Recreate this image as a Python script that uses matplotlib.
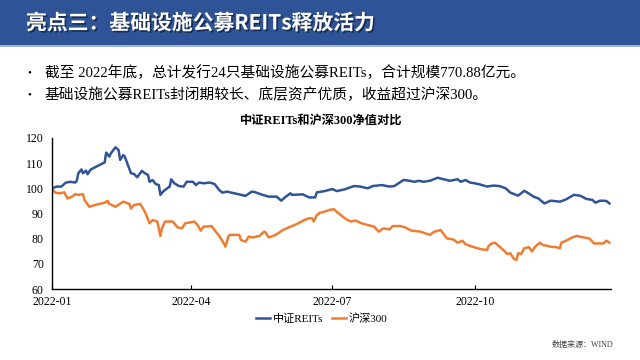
import numpy as np
import pandas as pd
import matplotlib
matplotlib.use("Agg")
import matplotlib.pyplot as plt
import matplotlib.dates as mdates
import matplotlib.patheffects as pe
from matplotlib.patches import Rectangle

# 中证REITs net value
reits_dates = [
    "2022-01-01", "2022-01-04", "2022-01-07", "2022-01-10", "2022-01-13", "2022-01-16",
    "2022-01-17", "2022-01-18", "2022-01-20", "2022-01-21", "2022-01-23", "2022-01-24",
    "2022-01-26", "2022-02-04", "2022-02-05", "2022-02-07", "2022-02-08", "2022-02-11",
    "2022-02-13", "2022-02-14", "2022-02-16", "2022-02-17", "2022-02-21", "2022-02-23",
    "2022-02-25", "2022-02-28", "2022-03-02", "2022-03-04", "2022-03-05", "2022-03-07",
    "2022-03-09", "2022-03-11", "2022-03-12", "2022-03-14", "2022-03-18", "2022-03-19",
    "2022-03-21", "2022-03-24", "2022-03-27", "2022-03-29", "2022-04-02", "2022-04-04",
    "2022-04-06", "2022-04-09", "2022-04-13", "2022-04-16", "2022-04-19", "2022-04-21",
    "2022-04-24", "2022-05-01", "2022-05-06", "2022-05-10", "2022-05-12", "2022-05-17",
    "2022-05-21", "2022-05-26", "2022-05-29", "2022-06-01", "2022-06-04", "2022-06-05",
    "2022-06-12", "2022-06-16", "2022-06-20", "2022-06-21", "2022-06-26", "2022-07-01",
    "2022-07-04", "2022-07-09", "2022-07-15", "2022-07-19", "2022-07-24", "2022-07-27",
    "2022-08-02", "2022-08-07", "2022-08-10", "2022-08-16", "2022-08-20", "2022-08-23",
    "2022-08-26", "2022-08-29", "2022-09-02", "2022-09-07", "2022-09-11", "2022-09-15",
    "2022-09-20", "2022-09-22", "2022-09-25", "2022-09-28", "2022-10-01", "2022-10-04",
    "2022-10-09", "2022-10-13", "2022-10-17", "2022-10-21", "2022-10-24", "2022-10-29",
    "2022-11-02", "2022-11-04", "2022-11-08", "2022-11-11", "2022-11-15", "2022-11-19",
    "2022-11-25", "2022-11-29", "2022-12-04", "2022-12-08", "2022-12-12", "2022-12-16",
    "2022-12-18", "2022-12-21", "2022-12-25", "2022-12-27",
]
reits_values = [
    100.0, 100.7, 100.7, 102.3, 102.6, 102.3,
    103.0, 106.0, 107.5, 106.0, 107.0, 105.6,
    107.5, 110.3, 114.2, 112.6, 113.9, 116.3,
    115.2, 111.3, 113.2, 112.6, 106.0, 105.7,
    104.4, 106.9, 106.0, 105.3, 102.6, 103.3,
    101.7, 101.3, 97.4, 98.9, 100.7, 103.6,
    102.0, 100.9, 100.7, 102.6, 102.6, 101.3,
    102.3, 102.0, 102.3, 101.7, 99.3, 98.3,
    98.7, 97.7, 97.0, 98.7, 98.5, 97.4,
    96.7, 96.7, 95.1, 96.7, 98.0, 97.4,
    97.6, 96.4, 96.4, 98.4, 98.9, 99.7,
    98.9, 99.6, 100.9, 100.7, 100.0, 100.9,
    101.3, 100.7, 100.9, 103.3, 103.0, 102.6,
    103.0, 102.6, 103.0, 104.2, 103.6, 103.0,
    103.6, 102.6, 103.3, 102.3, 102.0, 101.6,
    100.7, 101.1, 100.9, 100.0, 98.3, 97.1,
    99.0, 98.3, 96.7, 96.0, 94.0, 95.1,
    94.7, 95.6, 97.4, 97.1, 95.8, 95.4,
    94.3, 95.1, 95.0, 94.0,
]

# 沪深300 net value
hs300_dates = [
    "2022-01-01", "2022-01-03", "2022-01-06", "2022-01-09", "2022-01-11", "2022-01-14",
    "2022-01-16", "2022-01-18", "2022-01-21", "2022-01-22", "2022-01-25", "2022-01-29",
    "2022-02-04", "2022-02-06", "2022-02-07", "2022-02-11", "2022-02-16", "2022-02-20",
    "2022-02-21", "2022-02-23", "2022-02-27", "2022-03-02", "2022-03-05", "2022-03-07",
    "2022-03-10", "2022-03-12", "2022-03-13", "2022-03-15", "2022-03-20", "2022-03-23",
    "2022-03-26", "2022-03-28", "2022-04-03", "2022-04-05", "2022-04-07", "2022-04-09",
    "2022-04-11", "2022-04-14", "2022-04-16", "2022-04-18", "2022-04-20", "2022-04-22",
    "2022-04-23", "2022-04-25", "2022-04-26", "2022-05-02", "2022-05-03", "2022-05-06",
    "2022-05-08", "2022-05-11", "2022-05-15", "2022-05-18", "2022-05-19", "2022-05-21",
    "2022-05-24", "2022-05-27", "2022-05-30", "2022-06-03", "2022-06-05", "2022-06-08",
    "2022-06-13", "2022-06-16", "2022-06-18", "2022-06-19", "2022-06-21", "2022-06-23",
    "2022-06-26", "2022-06-29", "2022-07-02", "2022-07-05", "2022-07-10", "2022-07-13",
    "2022-07-16", "2022-07-20", "2022-07-24", "2022-07-28", "2022-07-31", "2022-08-03",
    "2022-08-07", "2022-08-09", "2022-08-14", "2022-08-17", "2022-08-21", "2022-08-27",
    "2022-09-02", "2022-09-05", "2022-09-09", "2022-09-13", "2022-09-17", "2022-09-20",
    "2022-09-23", "2022-09-25", "2022-09-30", "2022-10-05", "2022-10-09", "2022-10-10",
    "2022-10-12", "2022-10-14", "2022-10-17", "2022-10-20", "2022-10-22", "2022-10-24",
    "2022-10-26", "2022-10-28", "2022-10-29", "2022-10-31", "2022-11-02", "2022-11-05",
    "2022-11-07", "2022-11-09", "2022-11-12", "2022-11-14", "2022-11-19", "2022-11-23",
    "2022-11-25", "2022-11-26", "2022-11-29", "2022-12-03", "2022-12-06", "2022-12-10",
    "2022-12-14", "2022-12-17", "2022-12-23", "2022-12-25", "2022-12-27",
]
hs300_values = [
    100.0, 98.3, 98.0, 98.4, 96.0, 96.7,
    97.7, 97.4, 97.7, 95.4, 92.7, 93.4,
    94.3, 95.0, 93.8, 92.7, 94.7, 93.8,
    92.0, 93.4, 93.8, 90.7, 86.1, 87.4,
    86.8, 81.1, 84.1, 86.8, 86.8, 84.5,
    84.1, 86.1, 86.8, 85.4, 83.2, 84.8,
    84.8, 85.0, 83.4, 81.9, 80.1, 78.1,
    76.8, 81.1, 81.5, 81.5, 79.5, 78.8,
    80.8, 80.5, 81.1, 82.8, 82.4, 80.5,
    81.1, 82.1, 83.4, 84.5, 85.0, 85.8,
    87.4, 88.1, 88.1, 86.8, 89.4, 90.3,
    90.7, 91.4, 91.7, 90.1, 87.7, 86.8,
    87.2, 86.1, 85.4, 84.8, 82.8, 84.1,
    83.7, 85.0, 85.0, 84.5, 83.2, 82.8,
    81.5, 82.8, 83.4, 80.1, 79.7, 78.4,
    79.2, 77.8, 76.7, 75.8, 75.5, 77.1,
    78.1, 78.4, 76.8, 75.2, 73.9, 74.2,
    72.2, 71.5, 74.2, 73.9, 76.2, 76.6,
    74.9, 76.8, 78.4, 77.5, 76.8, 76.6,
    76.2, 78.4, 79.2, 80.5, 81.1, 80.5,
    80.1, 78.1, 78.1, 79.2, 78.4,
]

series_names = ["中证REITs", "沪深300"]
xtick_dates = ["2022-01-01", "2022-04-01", "2022-07-01", "2022-10-01"]

title = "亮点三：基础设施公募REITs释放活力"
bullets = [
    "截至 2022年底，总计发行24只基础设施公募REITs，合计规模770.88亿元。",
    "基础设施公募REITs封闭期较长、底层资产优质，收益超过沪深300。",
]
chart_title = "中证REITs和沪深300净值对比"
source = "数据来源：WIND"

serif = ["Liberation Serif", "Noto Sans CJK SC"]
sans = ["Noto Sans CJK SC", "DejaVu Sans"]
plt.rcParams["font.family"] = serif

blue = "#2F5597"
orange = "#ED7D31"

fig = plt.figure(figsize=(6.4, 3.6), dpi=100)
fig.patch.set_facecolor("white")

# header bar
fig.patches.append(Rectangle((0, 1 - 45 / 360), 1, 45 / 360, transform=fig.transFigure,
                             facecolor="#2E5396", edgecolor="none", zorder=0))
fig.patches.append(Rectangle((0, 1 - 47 / 360), 1, 2 / 360, transform=fig.transFigure,
                             facecolor="#9DB3D9", edgecolor="none", zorder=0))
fig.text(26 / 640, 1 - 23 / 360, title, color="white", fontsize=15, fontweight="bold",
         family=sans, va="center", ha="left",
         path_effects=[pe.withSimplePatchShadow(offset=(1.2, -1.2), shadow_rgbFace="black", alpha=0.45)])

for i, b in enumerate(bullets):
    y = 1 - (73 + i * 22) / 360
    fig.text(27 / 640, y, "•", fontsize=8, va="center", ha="left", family=serif)
    fig.text(45 / 640, y, b, fontsize=10.6, va="center", ha="left", family=serif)

ax = fig.add_axes([52 / 640, 1 - 289 / 360, (611 - 52) / 640, (289 - 138) / 360])
ax.plot(pd.to_datetime(reits_dates), reits_values, color=blue, lw=1.8, label=series_names[0])
ax.plot(pd.to_datetime(hs300_dates), hs300_values, color=orange, lw=1.8, label=series_names[1])

ax.set_ylim(60, 120)
ax.set_yticks(np.arange(60, 121, 10))
ax.set_xlim(pd.Timestamp("2022-01-01"), pd.Timestamp("2022-12-28"))
ax.set_xticks(pd.to_datetime(xtick_dates))
ax.xaxis.set_major_formatter(mdates.DateFormatter("%Y-%m"))
for s in ["top", "right"]:
    ax.spines[s].set_visible(False)
ax.spines["left"].set_linewidth(1.0)
ax.spines["bottom"].set_linewidth(1.0)
ax.tick_params(axis="y", length=0, labelsize=8.5, pad=6)
ax.tick_params(axis="x", direction="in", length=3, labelsize=8.5, pad=5)

fig.text(321 / 640, 1 - 121 / 360, chart_title, fontsize=8.8, fontweight="bold",
         ha="center", va="center", family=serif)

fig.legend(loc="center", bbox_to_anchor=(322 / 640, 1 - 319 / 360), ncol=2, frameon=False,
           fontsize=8, handlelength=1.2, handletextpad=0.3, columnspacing=0.8)

fig.text(613 / 640, 1 - 345 / 360, source, fontsize=5.8, color="#444444",
         ha="right", va="center", family=serif)

fig.savefig("out.png", dpi=100)
